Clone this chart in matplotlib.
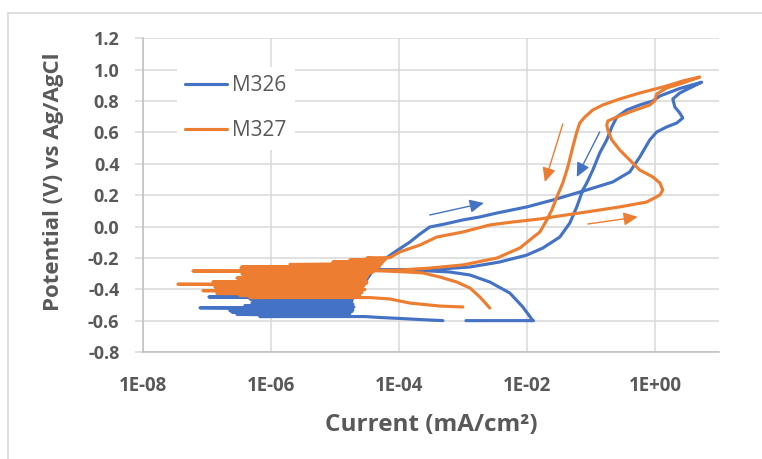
import numpy as np
import matplotlib
matplotlib.use("Agg")
import matplotlib.pyplot as plt
from matplotlib.lines import Line2D
from matplotlib.ticker import FixedLocator, FixedFormatter, NullLocator

plt.rcParams['font.family'] = ['Open Sans', 'DejaVu Sans']

nan = np.nan

# ---- M326: forward sweep (with gap), then reverse sweep ----
m326_fwd_i = [1.25e-2, 3.75e-3, 1.11e-3, nan, 4.84e-4, 2.12e-4, 1.03e-4, 5.04e-5, 2.94e-5,
              6.76e-7, 1.43e-5, 2.96e-7, 1.71e-5, 2.47e-7, 1.84e-5, 2.3e-7, 1.91e-5, 7.83e-8, 1.98e-5,
              3.94e-7, 1.91e-5, 5.07e-7, 1.84e-5, 1.66e-6, 1.84e-5, 4.72e-7, 1.91e-5, 1.08e-7, 2.05e-5,
              2.45e-5, 2.94e-5, 3.52e-5, 4.21e-5, 6.03e-5, 8.63e-5, 1.48e-4, 2.12e-4, 3.03e-4, 5.2e-4,
              9.93e-4, 1.83e-3, 3.37e-3, 9.9e-3, 2.52e-2, 8.54e-2, 0.217, 0.40, 0.573, 0.821,
              1.056, 1.51, 2.17, 2.69, 2.41, 2.02, 1.88, 2.41, 3.45, 5.3]
m326_fwd_v = [-0.60, -0.60, -0.60, nan, -0.60, -0.593, -0.586, -0.580, -0.574,
              -0.574, -0.571, -0.560, -0.555, -0.545, -0.542, -0.536, -0.532, -0.518, -0.513,
              -0.504, -0.497, -0.486, -0.481, -0.472, -0.471, -0.462, -0.459, -0.449, -0.446,
              -0.405, -0.354, -0.309, -0.252, -0.207, -0.162, -0.099, -0.048, -0.003, 0.016,
              0.042, 0.061, 0.086, 0.125, 0.169, 0.233, 0.284, 0.348, 0.443, 0.552,
              0.603, 0.635, 0.660, 0.692, 0.724, 0.762, 0.813, 0.851, 0.883, 0.92]
m326_rev_i = [5.3, 2.41, 1.18, 0.914, 0.573, 0.359, 0.251, 0.21, 0.175, 0.136, 0.106,
              8.54e-2, 7.4e-2, 5.96e-2, 4.64e-2, 3.24e-2, 1.76e-2, 9.9e-3, 3.75e-3, 1.28e-3,
              4.35e-4, 1.48e-4, 4.2e-5, 1.03e-4, 2.36e-4, 6.2e-4, 1.28e-3, 2.62e-3, 5.37e-3,
              8.57e-3, 1.23e-2]
m326_rev_v = [0.92, 0.88, 0.832, 0.80, 0.775, 0.743, 0.698, 0.635, 0.552, 0.469, 0.360,
              0.278, 0.233, 0.125, 0.0225, -0.067, -0.137, -0.182, -0.226, -0.258,
              -0.271, -0.274, -0.275, -0.278, -0.281, -0.290, -0.309, -0.354, -0.424,
              -0.513, -0.60]

# ---- M327: forward sweep, then reverse sweep ----
m327_fwd_i = [9.93e-4, 4.35e-4, 1.48e-4, 7.21e-5, 3.52e-5,
              4.72e-7, 1.71e-5, 3.3e-7, 2.45e-5, 1.44e-7, 2.64e-5, 8.73e-8, 2.94e-5, 2.3e-7, 2.45e-5,
              1.34e-7, 2.84e-5, 3.55e-8, 3.05e-5, 3.3e-7, 3.16e-5, 1.25e-7, 3.05e-5, 3.94e-7, 2.94e-5,
              2.96e-7, 3.16e-5, 4.72e-7, 3.27e-5, 3.54e-7, 3.52e-5, 3.94e-7, 3.92e-5, 6.09e-8, 4.21e-5,
              3.54e-7, 4.52e-5, 3.42e-7, 4.69e-5, 3.54e-7, 5.04e-5, 1.99e-6, 5.41e-5, 9.3e-6, 5.81e-5,
              1.71e-5, 6.25e-5, 3.16e-5, 7.21e-5,
              1.03e-4, 2.12e-4, 3.9e-4, 9.93e-4, 2.62e-3, 5.98e-3, 1.58e-2, 2.52e-2, 8.54e-2, 0.279,
              0.737, 1.18, 1.31, 1.18, 0.914, 0.573, 0.40, 0.279, 0.21, 0.182,
              0.175, 0.182, 0.251, 0.40, 0.821, 0.982, 1.056, 1.51, 2.69, 4.95]
m327_fwd_v = [-0.513, -0.507, -0.488, -0.462, -0.453,
              -0.453, -0.446, -0.440, -0.437, -0.427, -0.421, -0.409, -0.402, -0.395, -0.389,
              -0.386, -0.379, -0.368, -0.363, -0.360, -0.357, -0.352, -0.344, -0.341, -0.335,
              -0.328, -0.322, -0.316, -0.309, -0.303, -0.297, -0.293, -0.290, -0.284, -0.281,
              -0.274, -0.271, -0.265, -0.262, -0.257, -0.252, -0.242, -0.236, -0.226, -0.220,
              -0.213, -0.207, -0.201, -0.198,
              -0.162, -0.118, -0.067, -0.035, 0.010, 0.029, 0.048, 0.061, 0.093, 0.125,
              0.156, 0.201, 0.233, 0.278, 0.316, 0.360, 0.424, 0.488, 0.552, 0.615,
              0.647, 0.673, 0.698, 0.730, 0.775, 0.80, 0.845, 0.883, 0.915, 0.953]
m327_rev_i = [2.69, 1.51, 0.573, 0.279, 0.152, 0.106, 7.95e-2, 6.64e-2, 5.96e-2, 5.16e-2,
              4.32e-2, 3.61e-2, 2.91e-2, 2.43e-2, 2.03e-2, 1.58e-2, 1.1e-2, 7.7e-3, 3.37e-3,
              9.93e-4, 3.03e-4, 1.03e-4, 4.21e-5, 1.33e-4, 2.36e-4, 4.35e-4, 8.0e-4, 1.28e-3,
              1.83e-3, 2.62e-3]
m327_rev_v = [0.928, 0.896, 0.851, 0.813, 0.775, 0.743, 0.698, 0.660, 0.603, 0.507,
              0.380, 0.278, 0.188, 0.105, 0.042, -0.035, -0.086, -0.137, -0.201,
              -0.245, -0.265, -0.278, -0.281, -0.290, -0.296, -0.322, -0.354, -0.392,
              -0.449, -0.520]

series_names = ['M326', 'M327']
x_ticks = [1e-8, 1e-6, 1e-4, 1e-2, 1e0]
x_tick_labels = ['1E-08', '1E-06', '1E-04', '1E-02', '1E+00']
y_ticks = [-0.8, -0.6, -0.4, -0.2, 0.0, 0.2, 0.4, 0.6, 0.8, 1.0, 1.2]
y_tick_labels = ['-0.8', '-0.6', '-0.4', '-0.2', '0.0', '0.2', '0.4', '0.6', '0.8', '1.0', '1.2']

BLUE = '#4472C4'
ORANGE = '#ED7D31'
TEXT = '#595959'
GRID = '#d9d9d9'

fig = plt.figure(figsize=(7.62, 4.59), dpi=100)
ax = fig.add_axes([0.1873, 0.2331, 0.7567, 0.6835])

ax.plot(m326_fwd_i + m326_rev_i, m326_fwd_v + m326_rev_v, color=BLUE, lw=2.25,
        solid_joinstyle='round', solid_capstyle='round', label=series_names[0])
ax.plot(m327_fwd_i + m327_rev_i, m327_fwd_v + m327_rev_v, color=ORANGE, lw=2.25,
        solid_joinstyle='round', solid_capstyle='round', label=series_names[1])

# sweep-direction arrows
arrow_kw = dict(arrowstyle='-|>,head_length=0.85,head_width=0.4', lw=1.0,
                shrinkA=0, shrinkB=0, mutation_scale=10)
ax.annotate('', xy=(2.11e-3, 0.150), xytext=(3.03e-4, 0.0735),
            arrowprops=dict(color=BLUE, **arrow_kw))
ax.annotate('', xy=(0.533, 0.061), xytext=(0.0886, 0.016),
            arrowprops=dict(color=ORANGE, **arrow_kw))
ax.annotate('', xy=(0.0189, 0.284), xytext=(0.0361, 0.654),
            arrowprops=dict(color=ORANGE, **arrow_kw))
ax.annotate('', xy=(0.0596, 0.316), xytext=(0.136, 0.603),
            arrowprops=dict(color=BLUE, **arrow_kw))

ax.set_xscale('log')
ax.set_xlim(1e-8, 1e1)
ax.set_ylim(-0.8, 1.2)
ax.xaxis.set_major_locator(FixedLocator(x_ticks))
ax.xaxis.set_major_formatter(FixedFormatter(x_tick_labels))
ax.xaxis.set_minor_locator(NullLocator())
ax.yaxis.set_major_locator(FixedLocator(y_ticks))
ax.yaxis.set_major_formatter(FixedFormatter(y_tick_labels))

ax.set_axisbelow(True)
ax.grid(True, which='major', color=GRID, lw=1.1)
for s in ('top', 'right'):
    ax.spines[s].set_visible(False)
for s in ('left', 'bottom'):
    ax.spines[s].set_color('#bfbfbf')
    ax.spines[s].set_linewidth(1.1)

ax.tick_params(axis='y', length=5.8, width=1.1, color=GRID, pad=11,
               labelsize=13, labelcolor=TEXT)
ax.tick_params(axis='x', length=0, pad=17, labelsize=13.5, labelcolor=TEXT)
for lbl in ax.get_xticklabels() + ax.get_yticklabels():
    lbl.set_fontweight('bold')

ax.set_xlabel('Current (mA/cm²)', fontsize=17.5, fontweight='bold', color=TEXT, va='center')
ax.xaxis.set_label_coords(0.5, -0.233)
ax.set_ylabel('Potential (V) vs Ag/AgCl', fontsize=16, fontweight='bold', color=TEXT, va='center')
ax.yaxis.set_label_coords(-0.154, 0.542)

leg = ax.legend(loc='upper left', bbox_to_anchor=(0.0595, 0.908), fontsize=15,
                frameon=True, facecolor='white', edgecolor='none', framealpha=1,
                fancybox=False, handlelength=2.0, handletextpad=0.25,
                labelspacing=1.14, borderpad=0.4, borderaxespad=0)
for t in leg.get_texts():
    t.set_color(TEXT)

# chart-area border (top and left edges)
fig.add_artist(Line2D([8 / 762, 1.0], [1 - 13 / 459, 1 - 13 / 459], color=GRID, lw=1.2,
                      transform=fig.transFigure))
fig.add_artist(Line2D([8 / 762, 8 / 762], [0.0, 1 - 13 / 459], color=GRID, lw=1.2,
                      transform=fig.transFigure))

fig.savefig('out.png', dpi=100)
